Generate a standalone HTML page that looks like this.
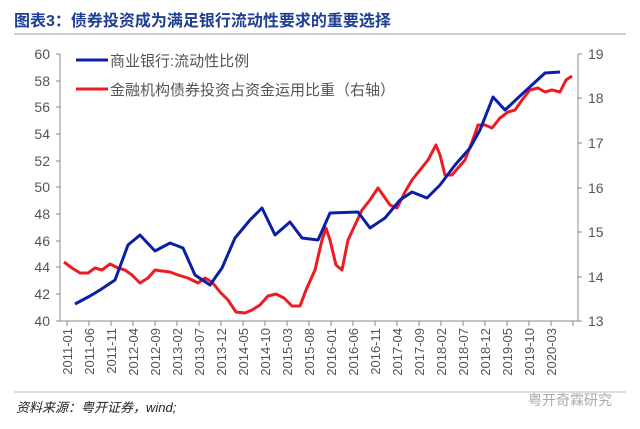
<!DOCTYPE html>
<html><head><meta charset="utf-8"><style>
body{margin:0;background:#fff;width:640px;height:424px;overflow:hidden}
text{font-family:"Liberation Sans","Noto Sans CJK SC",sans-serif}
</style></head><body>
<svg width="640" height="424" xmlns="http://www.w3.org/2000/svg">
<text x="14" y="26" font-size="16" font-weight="bold" fill="#1f3f94">图表3：债券投资成为满足银行流动性要求的重要选择</text>
<line x1="14" y1="34" x2="626" y2="34" stroke="#999" stroke-width="1"/>
<g stroke="#888" stroke-width="1" fill="none">
<line x1="60" y1="54" x2="60" y2="321"/>
<line x1="578" y1="54" x2="578" y2="321"/>
<line x1="56" y1="321" x2="582" y2="321"/>
<path d="M56 54H60M56 81H60M56 107H60M56 134H60M56 161H60M56 187H60M56 214H60M56 241H60M56 267H60M56 294H60M578 54H582M578 98H582M578 143H582M578 188H582M578 232H582M578 277H582"/>
<path d="M67 321v5M89 321v5M111 321v5M133 321v5M155 321v5M177 321v5M199 321v5M221 321v5M243 321v5M265 321v5M287 321v5M309 321v5M331 321v5M353 321v5M375 321v5M397 321v5M419 321v5M441 321v5M463 321v5M485 321v5M507 321v5M529 321v5M551 321v5M573 321v5"/>
</g>
<g font-size="14" fill="#555" text-anchor="end">
<text x="50" y="59">60</text><text x="50" y="86">58</text><text x="50" y="112">56</text><text x="50" y="139">54</text><text x="50" y="166">52</text><text x="50" y="192">50</text><text x="50" y="219">48</text><text x="50" y="246">46</text><text x="50" y="272">44</text><text x="50" y="299">42</text><text x="50" y="326">40</text>
</g>
<g font-size="14" fill="#555">
<text x="588" y="59">19</text><text x="588" y="103">18</text><text x="588" y="148">17</text><text x="588" y="193">16</text><text x="588" y="237">15</text><text x="588" y="282">14</text><text x="588" y="326">13</text>
</g>
<g font-size="13" fill="#555" text-anchor="end">
<text transform="translate(72,328) rotate(-90)">2011-01</text>
<text transform="translate(94,328) rotate(-90)">2011-06</text>
<text transform="translate(116,328) rotate(-90)">2011-11</text>
<text transform="translate(138,328) rotate(-90)">2012-04</text>
<text transform="translate(160,328) rotate(-90)">2012-09</text>
<text transform="translate(182,328) rotate(-90)">2013-02</text>
<text transform="translate(204,328) rotate(-90)">2013-07</text>
<text transform="translate(226,328) rotate(-90)">2013-12</text>
<text transform="translate(248,328) rotate(-90)">2014-05</text>
<text transform="translate(270,328) rotate(-90)">2014-10</text>
<text transform="translate(292,328) rotate(-90)">2015-03</text>
<text transform="translate(314,328) rotate(-90)">2015-08</text>
<text transform="translate(336,328) rotate(-90)">2016-01</text>
<text transform="translate(358,328) rotate(-90)">2016-06</text>
<text transform="translate(380,328) rotate(-90)">2016-11</text>
<text transform="translate(402,328) rotate(-90)">2017-04</text>
<text transform="translate(424,328) rotate(-90)">2017-09</text>
<text transform="translate(446,328) rotate(-90)">2018-02</text>
<text transform="translate(468,328) rotate(-90)">2018-07</text>
<text transform="translate(490,328) rotate(-90)">2018-12</text>
<text transform="translate(512,328) rotate(-90)">2019-05</text>
<text transform="translate(534,328) rotate(-90)">2019-10</text>
<text transform="translate(556,328) rotate(-90)">2020-03</text>
</g>
<polyline fill="none" stroke="#ed1c24" stroke-width="3" stroke-linejoin="round" points="64,262 72,268 80,273 88,273 95,268 102,270 110,264 118,268 125,270 132,275 140,283 148,278 155,270 162,271 170,272 178,275 188,278 198,283 205,278 212,282 220,292 228,300 236,312 245,313 252,310 260,305 268,296 276,294 284,298 292,306 300,306 306,290 315,270 322,240 326,228 330,240 336,265 342,270 348,240 355,225 362,210 370,200 378,188 383,195 390,205 397,208 405,192 412,180 420,170 428,160 436,145 440,155 445,175 452,175 458,168 465,160 472,142 478,125 485,125 492,128 500,118 508,112 515,110 522,100 530,90 538,88 545,92 552,90 560,92 566,80 572,76"/>
<polyline fill="none" stroke="#0a1fa6" stroke-width="3" stroke-linejoin="round" points="75,304 90,296 100,290 115,280 128,245 140,235 155,251 170,243 183,248 195,275 210,285 222,268 235,238 250,220 262,208 275,235 290,222 302,238 318,240 330,213 358,212 370,228 385,218 400,200 412,192 427,198 440,185 455,165 470,148 480,130 493,97 505,110 520,96 545,73 560,72"/>
<line x1="76" y1="60" x2="108" y2="60" stroke="#0a1fa6" stroke-width="3"/>
<text x="110" y="66" font-size="15" fill="#555">商业银行:流动性比例</text>
<line x1="76" y1="89" x2="108" y2="89" stroke="#ed1c24" stroke-width="3"/>
<text x="110" y="95" font-size="15" fill="#555">金融机构债券投资占资金运用比重（右轴）</text>
<line x1="14" y1="392" x2="626" y2="392" stroke="#bbb" stroke-width="1"/>
<text x="16" y="412" font-size="13" font-style="italic" fill="#222">资料来源：粤开证券，wind;</text>
<text x="528" y="405" font-size="14" fill="#aaa">粤开奇霖研究</text>
</svg>
</body></html>
